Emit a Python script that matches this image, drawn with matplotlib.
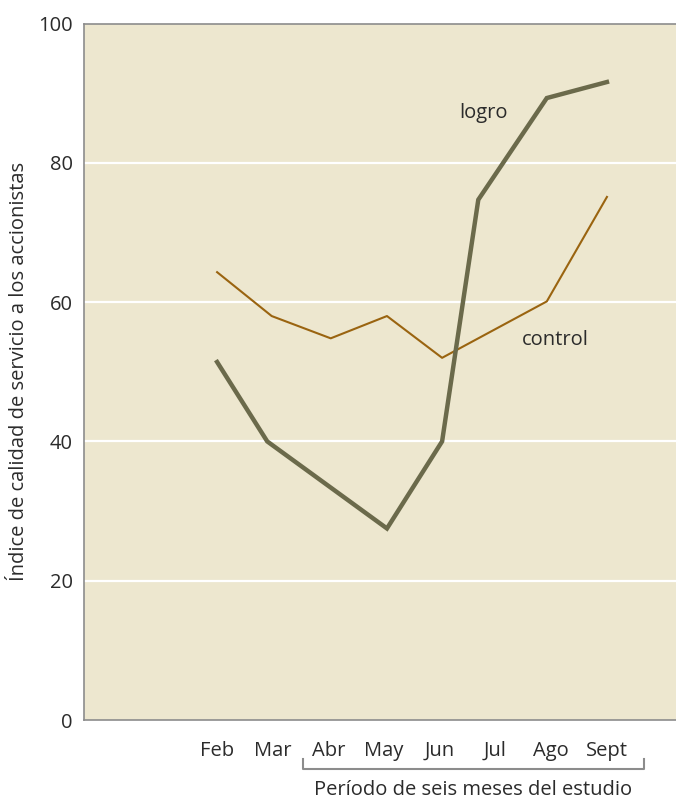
import matplotlib.pyplot as plt

plt.rcParams['font.family'] = ['Open Sans', 'DejaVu Sans']

months = ['Feb', 'Mar', 'Abr', 'May', 'Jun', 'Jul', 'Ago', 'Sept']

# positions along the month axis (Feb = 0) and index values
logro_x = [0, 0.9, 3.05, 4.04, 4.69, 5.92, 7.0]
logro_y = [51.4, 40.0, 27.5, 40.0, 74.7, 89.3, 91.6]

control_x = [0, 0.98, 2.04, 3.05, 4.04, 5.92, 7.0]
control_y = [64.3, 58.0, 54.8, 58.0, 52.0, 60.1, 75.1]

bg = '#ede7cf'
grey = '#8c8c8c'
txt = '#2b2b2b'
fs = 14.5

fig = plt.figure(figsize=(6.76, 8), dpi=100)
ax = fig.add_axes([84 / 676, 0.1, 1 - 84 / 676, 0.8706])
ax.set_facecolor(bg)

ax.set_xlim(-2.39, 8.24)
ax.set_ylim(0, 100)

ax.set_yticks([0, 20, 40, 60, 80, 100])
ax.set_yticklabels(['0', '20', '40', '60', '80', '100'], fontsize=fs, color=txt)
ax.set_xticks(range(len(months)))
ax.set_xticklabels(months, fontsize=fs, color=txt)
ax.tick_params(length=0)
ax.tick_params(axis='y', pad=8)
ax.tick_params(axis='x', pad=15)

for v in [20, 40, 60, 80]:
    ax.axhline(v, color='white', lw=1.6, zorder=1)

ax.plot(control_x, control_y, color='#9a6410', lw=1.5, zorder=3)
ax.plot(logro_x, logro_y, color='#6b6a4b', lw=3.2, zorder=4,
        solid_joinstyle='miter')

ax.text(4.78, 87.2, 'logro', fontsize=fs, color=txt, ha='center', va='center')
ax.text(6.07, 54.6, 'control', fontsize=fs, color=txt, ha='center', va='center')

for s in ['left', 'top', 'bottom']:
    ax.spines[s].set_color(grey)
    ax.spines[s].set_linewidth(1.2)
ax.spines['right'].set_visible(False)

ax.set_ylabel('Índice de calidad de servicio a los accionistas',
              fontsize=fs, color=txt, labelpad=7)

# bracket under the six study months
tr = ax.get_xaxis_transform()
bx0, bx1 = 1.54, 7.67
ax.plot([bx0, bx0, bx1, bx1], [-0.056, -0.070, -0.070, -0.056],
        color=grey, lw=1.5, transform=tr, clip_on=False)
ax.text((bx0 + bx1) / 2, -0.101, 'Período de seis meses del estudio',
        fontsize=fs, color=txt, ha='center', va='center', transform=tr)

fig.savefig('out.png', dpi=100, facecolor='white')
